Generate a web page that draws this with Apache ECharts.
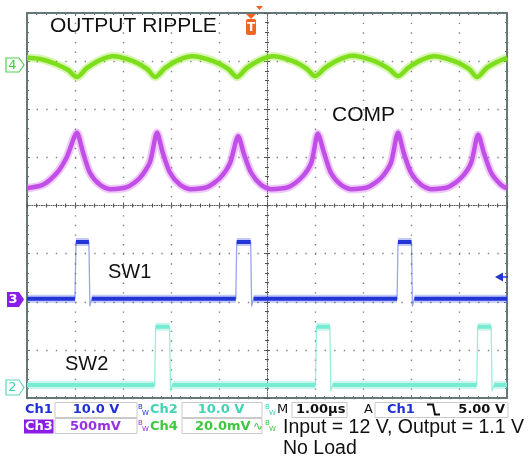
<!DOCTYPE html>
<html><head><meta charset="utf-8">
<script src="https://cdn.jsdelivr.net/npm/echarts@6/dist/echarts.min.js"></script>
<style>html,body{margin:0;padding:0;background:#fff;}#c{width:531px;height:459px;}</style>
</head><body><div id="c"></div>
<script>
// time in µs (1 µs / div), level in screen divisions (0 = bottom graticule line)
const ch4Ripple = [[0,7.07],[0.3,7.04],[0.6,6.94],[0.85,6.82],[1.04,6.67],
 [1.25,6.86],[1.52,7.02],[1.79,7.10],[2.21,7.00],[2.50,6.84],[2.67,6.67],
 [2.88,6.86],[3.15,7.02],[3.44,7.10],[3.88,7.00],[4.19,6.84],[4.375,6.67],
 [4.58,6.86],[4.85,7.02],[5.12,7.10],[5.54,7.00],[5.83,6.84],[6.0,6.69],
 [6.21,6.86],[6.48,7.02],[6.77,7.11],[7.21,7.01],[7.54,6.84],[7.73,6.69],
 [7.94,6.86],[8.21,7.02],[8.48,7.10],[8.90,7.00],[9.21,6.84],[9.375,6.67],
 [9.58,6.86],[9.79,6.98],[10,7.07]];
const ch3Comp = [[0,4.36],[0.33,4.43],[0.625,4.68],[0.83,5.01],[1.04,5.51],
 [1.17,5.09],[1.31,4.68],[1.52,4.43],[1.73,4.34],[2.08,4.38],[2.35,4.57],[2.56,4.90],[2.71,5.51],
 [2.83,5.09],[2.98,4.68],[3.19,4.43],[3.40,4.34],[3.75,4.38],[4.02,4.57],[4.23,4.88],[4.40,5.44],
 [4.52,5.07],[4.67,4.68],[4.875,4.43],[5.08,4.34],[5.44,4.38],[5.71,4.57],[5.92,4.88],[6.06,5.49],
 [6.19,5.09],[6.33,4.68],[6.54,4.43],[6.75,4.34],[7.10,4.38],[7.375,4.57],[7.58,4.88],[7.73,5.51],
 [7.85,5.09],[8.0,4.68],[8.21,4.43],[8.42,4.34],[8.77,4.38],[9.04,4.57],[9.25,4.88],[9.40,5.47],
 [9.52,5.09],[9.67,4.68],[9.875,4.43],[10,4.36]];
const ch1Sw1 = [[0,2.06],[1.0,2.06],[1.02,3.24],[1.29,3.24],[1.31,1.91],[1.35,2.06],
 [4.35,2.06],[4.37,3.24],[4.66,3.24],[4.68,1.91],[4.72,2.06],
 [7.71,2.06],[7.73,3.24],[8.01,3.24],[8.03,1.91],[8.07,2.06],[10,2.06]];
const ch2Sw2 = [[0,0.27],[2.66,0.27],[2.68,1.48],[2.97,1.48],[2.99,0.15],[3.03,0.27],
 [6.01,0.27],[6.03,1.48],[6.31,1.48],[6.33,0.15],[6.37,0.27],
 [9.37,0.27],[9.39,1.48],[9.67,1.48],[9.69,0.15],[9.73,0.27],[10,0.27]];
const traceLabels = ['OUTPUT RIPPLE','COMP','SW1','SW2'];
const statusRow1 = ['Ch1','10.0 V','Ch2','10.0 V','M','1.00µs','A','Ch1','5.00 V'];
const statusRow2 = ['Ch3','500mV','Ch4','20.0mV'];
const noteLines = ['Input = 12 V, Output = 1.1 V','No Load'];

function flatParts(pts){
  const out=[];
  for(let i=0;i<pts.length-1;i++){
    const a=pts[i], b=pts[i+1];
    if(a[1]===b[1]){ out.push(a,b,[b[0],'-']); }
  }
  return out;
}

const frameColor='#667779', dotColor='#808080';
function frameX(pos,split){return {type:'value',min:0,max:10,interval:1,position:pos,
  axisLine:{show:true,onZero:false,lineStyle:{color:frameColor,width:2}},
  axisTick:{show:true,inside:true,length:3,lineStyle:{color:frameColor,width:1}},
  minorTick:{show:true,splitNumber:5,length:2,lineStyle:{color:frameColor,width:1}},
  axisLabel:{show:false},
  splitLine:{show:split,lineStyle:{color:dotColor,width:1.4,type:[1.4,8.225]}},
  minorSplitLine:{show:false}};}
function frameY(pos,split){return {type:'value',min:0,max:8,interval:1,position:pos,
  axisLine:{show:true,onZero:false,lineStyle:{color:frameColor,width:2}},
  axisTick:{show:true,inside:true,length:3,lineStyle:{color:frameColor,width:1}},
  minorTick:{show:true,splitNumber:5,length:2,lineStyle:{color:frameColor,width:1}},
  axisLabel:{show:false},
  splitLine:{show:split,lineStyle:{color:dotColor,width:1.4,type:[1.4,8.2]}},
  minorSplitLine:{show:false}};}
function centerX(pos,idx,line){return {type:'value',min:-5,max:5,interval:1,position:pos,
  axisLine:{show:line,onZero:true,onZeroAxisIndex:idx,lineStyle:{color:'#555',width:1,type:[1,1.4]}},
  axisTick:{show:true,length:3,lineStyle:{color:'#555',width:1}},
  minorTick:{show:true,splitNumber:5,length:2,lineStyle:{color:'#555',width:1}},
  axisLabel:{show:false},splitLine:{show:false}};}
function centerY(pos,idx,line){return {type:'value',min:-4,max:4,interval:1,position:pos,
  axisLine:{show:line,onZero:true,onZeroAxisIndex:idx,lineStyle:{color:'#555',width:1,type:[1,1.4]}},
  axisTick:{show:true,length:3,lineStyle:{color:'#555',width:1}},
  minorTick:{show:true,splitNumber:5,length:2,lineStyle:{color:'#555',width:1}},
  axisLabel:{show:false},splitLine:{show:false}};}

function trace(data,color,width,smooth,z){return {type:'line',data,xAxisIndex:0,yAxisIndex:0,
  showSymbol:false,symbol:'none',smooth:smooth||false,connectNulls:false,z:z||2,
  lineStyle:{color,width,cap:'butt',join:'round'},emphasis:{disabled:true},silent:true,animation:false};}

const series=[
  trace(ch4Ripple,'rgba(140,230,40,0.35)',8.5,0.3),
  trace(ch4Ripple,'#7ede1c',4.5,0.3,3),
  trace(ch3Comp,'rgba(205,100,240,0.35)',8.5,0.25),
  trace(ch3Comp,'#c14ee6',4.5,0.25,3),
  trace(ch1Sw1,'rgba(70,90,230,0.55)',1.3,false),
  trace(flatParts(ch1Sw1),'rgba(80,100,235,0.35)',8,false),
  trace(flatParts(ch1Sw1),'#2236d8',4,false,3),
  trace(ch2Sw2,'rgba(110,230,205,0.7)',1.3,false),
  trace(flatParts(ch2Sw2),'rgba(120,235,210,0.4)',8,false),
  trace(flatParts(ch2Sw2),'#78ecd2',4,false,3)
];

function T(text,x,y,font,fill,align,va,z){return {type:'text',x,y,z:z||100,silent:true,
  style:{text,font,fill,align:align||'left',verticalAlign:va||'middle'}};}
function R(x,y,w,h,fill,stroke,z){return {type:'rect',z:z||90,silent:true,shape:{x,y,width:w,height:h},
  style:{fill,stroke:stroke||null,lineWidth:1}};}
function BW(x,y,col){return [T('B',x,y-3,'7px "DejaVu Sans"',col),T('W',x+4,y+3,'7px "DejaVu Sans"',col)];}

const labFont='21px "Liberation Sans", Arial, sans-serif';
const stB='bold 13px "DejaVu Sans", sans-serif';
const stR='13px "DejaVu Sans", sans-serif';
const cBlue='#1f2fd8', cCyan='#3fd4b4', cPurple='#9630e0', cGreen='#3cc93c';
const r1=410, r2=426.5;
const graphic=[
  T(traceLabels[0],50,26,labFont,'#111'),
  T(traceLabels[1],332,115,labFont,'#111'),
  T(traceLabels[2],108,272.5,'20px "Liberation Sans", Arial, sans-serif','#111'),
  T(traceLabels[3],65,364.5,'20px "Liberation Sans", Arial, sans-serif','#111'),
  {type:'polygon',z:95,silent:true,shape:{points:[[6,58],[19,58],[24,65],[19,72],[6,72]]},style:{fill:'#fff',stroke:'#4fd04f',lineWidth:1.2}},
  T('4',12.5,65.5,'13px "DejaVu Sans"','#45cc45','center'),
  {type:'polygon',z:95,silent:true,shape:{points:[[7,292],[19,292],[24,299.5],[19,307],[7,307]]},style:{fill:'#8a1ee6'}},
  T('3',13,300,'bold 13px "DejaVu Sans"','#fff','center'),
  {type:'polygon',z:95,silent:true,shape:{points:[[6,380],[19,380],[24,387.5],[19,395],[6,395]]},style:{fill:'#fff',stroke:'#5ed8bc',lineWidth:1.2}},
  T('2',12.5,388,'13px "DejaVu Sans"','#3fd0b0','center'),
  {type:'polygon',z:95,silent:true,shape:{points:[[495,277],[503,272.5],[503,281.5]]},style:{fill:'#2236d8'}},
  {type:'line',z:95,silent:true,shape:{x1:502,y1:277,x2:508,y2:277},style:{stroke:'#2236d8',lineWidth:1.5}},
  {type:'polygon',z:95,silent:true,shape:{points:[[256,6],[263,6],[259.5,10]]},style:{fill:'#f06424'}},
  {type:'polygon',z:95,silent:true,shape:{points:[[246,14],[256,14],[251,19]]},style:{fill:'#f06424'}},
  {type:'rect',z:95,silent:true,shape:{x:246,y:19,width:10,height:16,r:2},style:{fill:'#f06424'}},
  T('T',251,27.5,'bold 12px "DejaVu Sans"','#fff','center',null,96),
  R(55,402.5,82,15,'#fff','#c9c9c9'), R(182,402.5,80,15,'#fff','#c9c9c9'),
  R(292,402.5,55,15,'#fff','#c9c9c9'), R(375,402.5,133,15,'#fff','#c9c9c9'),
  R(55,418.5,82,15,'#fff','#c9c9c9'), R(182,418.5,80,15,'#fff','#c9c9c9'),
  R(24,419.5,29.5,14,'#8a1ee6',null,91),
  T(statusRow1[0],25,r1,stB,cBlue),
  T(statusRow1[1],96,r1,stB,cBlue,'center'),
  ...BW(138,r1,cBlue),
  T(statusRow1[2],150,r1,stB,cCyan),
  T(statusRow1[3],221,r1,stB,cCyan,'center'),
  ...BW(265,r1,cCyan),
  T(statusRow1[4],277,r1,stR,'#111'),
  T(statusRow1[5],296,r1,stB,'#111'),
  T(statusRow1[6],364,r1,stR,'#111'),
  T(statusRow1[7],387,r1,stB,cBlue),
  {type:'polyline',z:100,silent:true,shape:{points:[[427,404.5],[433,404.5],[435,414.5],[440,414.5]]},style:{stroke:'#111',lineWidth:2,fill:null}},
  T(statusRow1[8],505,r1,stB,'#111','right'),
  T(statusRow2[0],25,r2,stB,'#fff'),
  T(statusRow2[1],70,r2,stB,cPurple),
  ...BW(138,r2,cPurple),
  T(statusRow2[2],150,r2,stB,cGreen),
  T(statusRow2[3],195,r2,stB,cGreen),
  T('∿',253,r2,'12px "DejaVu Sans"',cGreen),
  ...BW(265,r2,cGreen),
  T(noteLines[0],283,428,'19.5px "Liberation Sans", Arial, sans-serif','#111'),
  T(noteLines[1],283,448.5,'19.5px "Liberation Sans", Arial, sans-serif','#111')
];

const chart=echarts.init(document.getElementById('c'),null,{renderer:'canvas'});
chart.setOption({
  animation:false,
  backgroundColor:'#fff',
  grid:{left:27,top:13,width:480,height:385,containLabel:false,outerBoundsMode:'none',show:false},
  xAxis:[frameX('bottom',true),frameX('top',false),centerX('bottom',2,true),centerX('top',3,false)],
  yAxis:[frameY('left',true),frameY('right',false),centerY('left',2,true),centerY('right',3,false)],
  series,
  graphic
});
</script></body></html>
